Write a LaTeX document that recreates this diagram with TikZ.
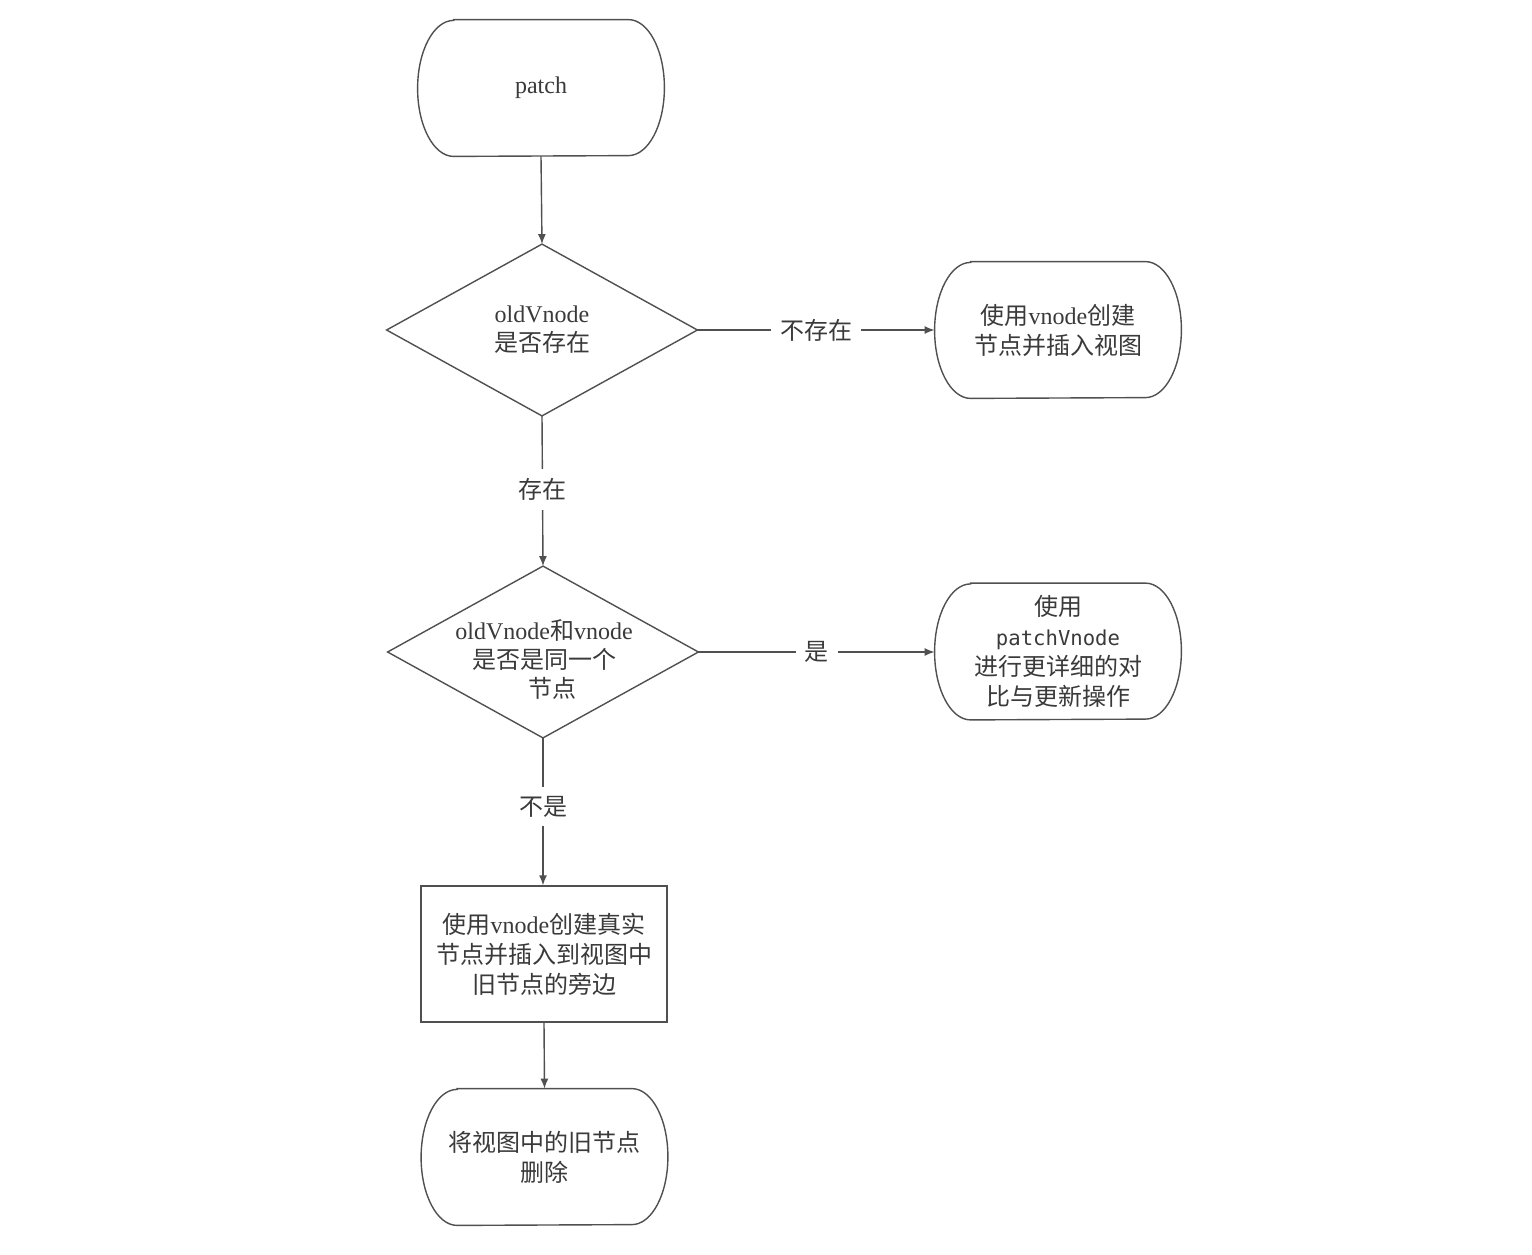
\documentclass[tikz,border=0pt]{standalone}
\usepackage{fontspec}
\setmainfont{Liberation Serif}
\newfontfamily\cjk{Noto Sans CJK SC}
\newfontfamily\mono{DejaVu Sans Mono}
\usetikzlibrary{arrows.meta}
\definecolor{ink}{HTML}{505050}
\definecolor{txt}{HTML}{3A3A3A}
\newcommand\stadiumpath[1]{%
  \draw[shapeline] ([xshift=18pt]#1.north west) -- ([xshift=-18pt]#1.north east)
    arc[x radius=18pt, y radius=34pt, start angle=90, end angle=-90]
    -- ([xshift=18pt]#1.south west)
    arc[x radius=18pt, y radius=34pt, start angle=270, end angle=90] -- cycle;}
\newcommand\diamondpath[1]{%
  \draw[shapeline] (#1.north) -- (#1.east) -- (#1.south) -- (#1.west) -- cycle;}
\begin{document}
\begin{tikzpicture}[x=0.5pt,y=-0.5pt,
  shapeline/.style={draw=ink, line width=0.7pt},
  blk/.style={minimum width=123pt, minimum height=68pt, inner sep=0pt, align=center,
    text=txt, font=\fontsize{12}{15}\selectfont},
  dia/.style={minimum width=155pt, minimum height=85.5pt, inner sep=0pt, align=center,
    text=txt, font=\fontsize{12}{14.5}\selectfont},
  dtext/.style={inner sep=0pt, align=center, text=txt, font=\fontsize{12}{14.5}\selectfont},
  conn/.style={draw=ink, line width=0.7pt, -{Latex[length=5pt,width=4pt]}},
  lbl/.style={fill=white, inner sep=4.5pt, text=txt, font=\fontsize{12}{14}\selectfont\cjk},
]
\fill[white] (0,0) rectangle (1532,1254);
\useasboundingbox (0,0) rectangle (1532,1254);

\node[blk] (patch) at (541,88) {\raisebox{-1.5pt}{patch}};
\node[dia] (d1) at (542,330) {oldVnode\\{\cjk 是否存在}};
\node[blk] (r1) at (1058,330) {{\cjk 使用}vnode{\cjk 创建}\\{\cjk 节点并插入视图}};
\node[dia] (d2) at (543,652) {};
\node[dtext] (d2text) at (544,659) {oldVnode{\cjk 和}vnode\\{\cjk 是否是同一个}\\\hspace*{8pt}{\cjk 节点}};
\node[blk] (r2) at (1058,651.5) {{\cjk 使用}\\{\mono\fontsize{10.3}{15}\selectfont patchVnode}\\{\cjk 进行更详细的对}\\{\cjk 比与更新操作}};
\node[blk, draw=ink, line width=0.7pt] (rect) at (544,954) {{\cjk 使用}vnode{\cjk 创建真实}\\{\cjk 节点并插入到视图中}\\{\cjk 旧节点的旁边}};
\node[blk] (del) at (544.5,1157) {{\cjk 将视图中的旧节点}\\{\cjk 删除}};

\stadiumpath{patch}
\stadiumpath{r1}
\stadiumpath{r2}
\stadiumpath{del}
\diamondpath{d1}
\diamondpath{d2}

\draw[conn] (patch.south) -- (d1.north);
\draw[conn] (d1.east) -- node[lbl] {不存在} (r1.west);
\draw[conn] (d1.south) -- node[lbl, pos=0.49] {存在} (d2.north);
\draw[conn] (d2.east) -- node[lbl] {是} (r2.west |- d2.east);
\draw[conn] (d2.south) -- node[lbl, pos=0.465] {不是} (d2.south |- rect.north);
\draw[conn] (rect.south) -- (del.north);
\end{tikzpicture}
\end{document}
